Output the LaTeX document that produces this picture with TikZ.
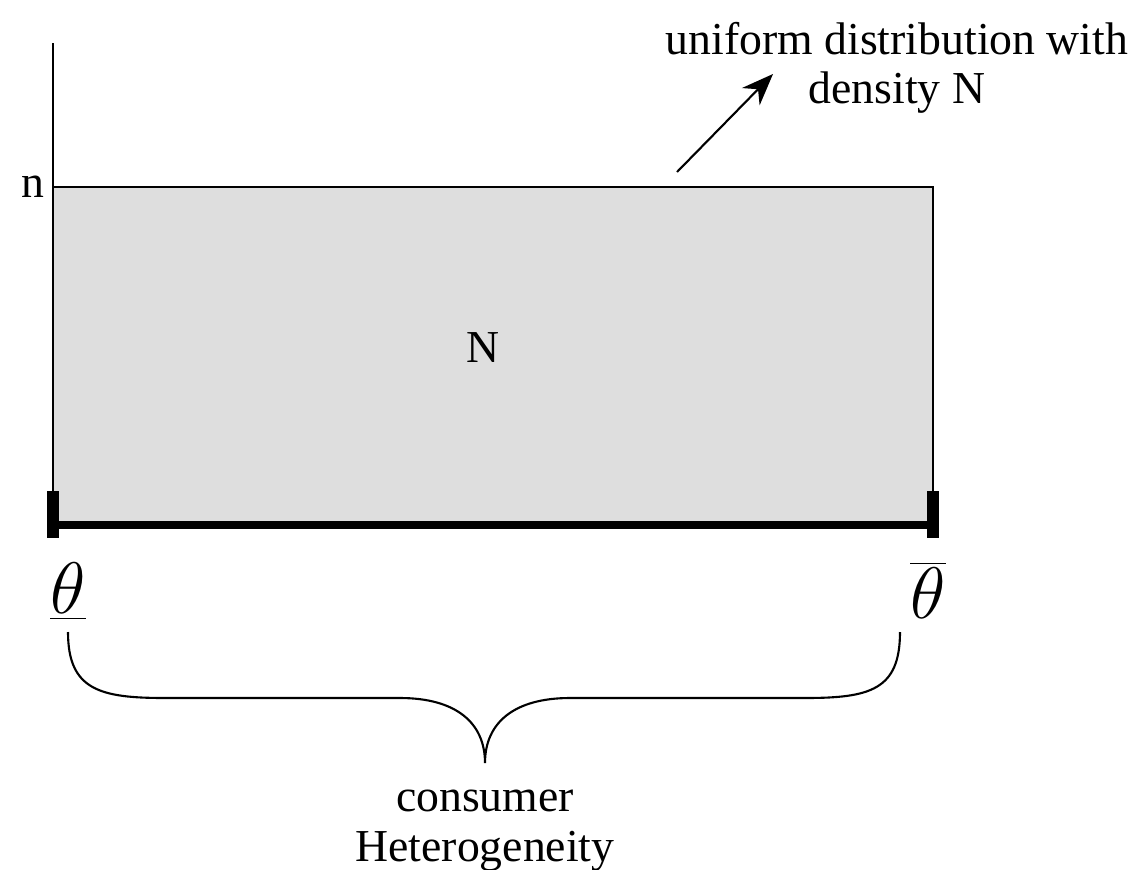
\documentclass[tikz,border=0pt]{standalone}
\usepackage{fontspec}
\setmainfont{Liberation Serif}
\usetikzlibrary{arrows.meta,positioning,calc}
\tikzset{every picture/.style={line width=0.6pt}}
\tikzset{
    lbl/.style={font=\fontsize{13}{14}\selectfont, inner sep=0pt},
    thlbl/.style={font=\fontsize{20}{24}\selectfont, inner sep=0pt},
    tick/.style={line width=3.4pt},
}

\begin{document}
\begin{tikzpicture}[x=0.01cm, y=-0.01cm]
    \useasboundingbox (0,0) rectangle (1145,869);
    % distribution
    \coordinate (top) at (53,43);
    \coordinate (lo) at (53,525);
    \coordinate (hi) at (933,525);
    \filldraw[fill=black!13] (lo) -- (53,187) -- (933,187) -- (hi);
    \draw (top) -- (lo);
    \draw[line width=2pt] (lo) -- (hi);
    \draw[tick] (lo) ++(0,-34) -- ++(0,47);
    \draw[tick] (hi) ++(0,-34) -- ++(0,47);
    \node[lbl] (n) at (33,187) {n};
    \node[lbl] (mass) at (483,348) {N};
    \node[thlbl] (thlo) at (68,592) {$\underline{\theta}$};
    \node[thlbl] (thhi) at (928,590) {$\overline{\theta}$};
    % annotation
    \node[lbl, align=center] (dens) at (897,68) {uniform distribution with\\density N};
    \coordinate (from) at (677,172);
    \coordinate (to) at (773,74);
    \draw[-{Stealth[length=9pt,width=7pt]}] (from) -- (to);
    % brace
    \coordinate (bl) at (68,632);
    \coordinate (br) at (900,632);
    \coordinate (tip) at (485,763);
    \draw (bl) .. controls (68,690) and (100,698) .. (165,698) -- (400,698)
        .. controls (455,698) and (485,722) .. (tip)
        .. controls (485,722) and (515,698) .. (570,698) -- (805,698)
        .. controls (870,698) and (900,690) .. (br);
    \node[lbl, below=7.5pt of tip, align=center] (het) {consumer\\Heterogeneity};
\end{tikzpicture}
\end{document}
